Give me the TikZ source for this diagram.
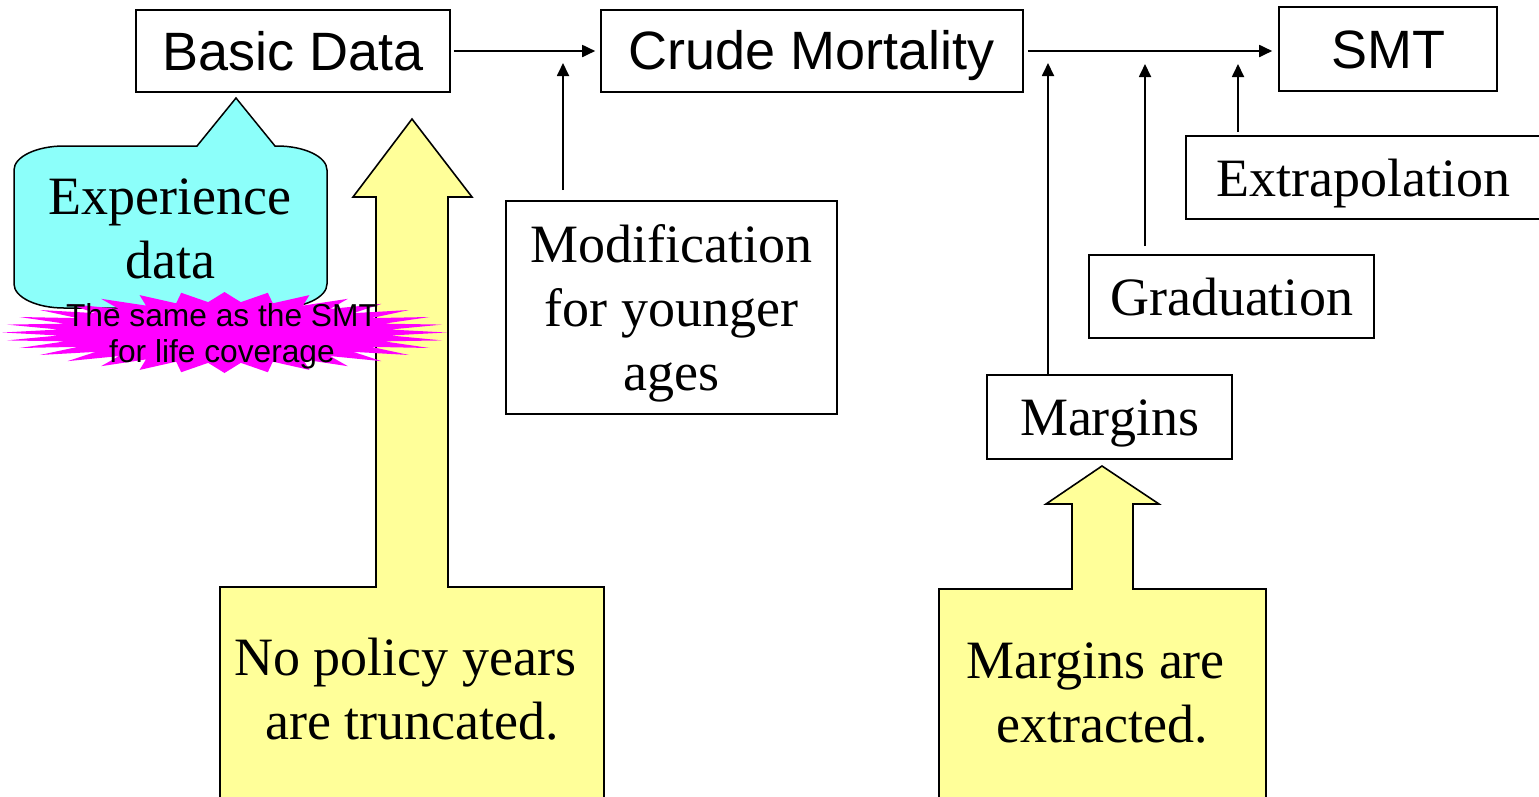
\documentclass[tikz,border=0pt]{standalone}
\usepackage{fontspec}
\setmainfont{Liberation Serif}
\setsansfont{Liberation Sans}
\usetikzlibrary{arrows.meta}
\definecolor{calloutcyan}{RGB}{140,255,250}
\definecolor{noteyellow}{RGB}{255,255,153}
\definecolor{burstmagenta}{RGB}{255,0,255}
\newcommand{\ppstrut}{\rule[-0.19em]{0pt}{1.1em}}
\begin{document}
\begin{tikzpicture}[x=1pt,y=-1pt,
  box/.style={draw=black, line width=1.6pt, fill=white, inner sep=0pt},
  serif/.style={font=\fontsize{54}{64}\selectfont, align=center},
  sansbig/.style={font=\sffamily\fontsize{54}{64}\selectfont},
  bursttxt/.style={font=\sffamily\fontsize{31.7}{36}\selectfont, align=center},
  conn/.style={line width=1.8pt, -{Triangle[length=13pt,width=12pt]}},
  yshape/.style={fill=noteyellow, draw=black, line width=1.6pt, line join=miter},
  callout/.style={fill=calloutcyan, draw=black, line width=1.5pt, line join=miter},
]
\useasboundingbox (0,0) rectangle (1539,796);
\clip (0,0) rectangle (1539,796);

% boxes
\node[box, sansbig, minimum width=314, minimum height=82] (basic) at (293,51) {\ppstrut Basic Data};
\node[box, sansbig, minimum width=422, minimum height=82] (crude) at (812,51) {\ppstrut Crude Mortality};
\node[box, sansbig, minimum width=218, minimum height=84] (smt) at (1388,49) {\ppstrut SMT};
\node[box, serif, minimum width=355, minimum height=83] (extra) at (1363.5,177.5) {\ppstrut Extrapolation};
\node[box, serif, minimum width=285, minimum height=83] (grad) at (1231.5,296.5) {\ppstrut Graduation};
\node[box, serif, minimum width=245, minimum height=84] (marg) at (1109.5,417) {\ppstrut Margins};
\node[box, serif, minimum width=331, minimum height=213] (mod) at (671.5,307.5) {\ppstrut Modification\\\ppstrut for younger\\\ppstrut ages};

% connectors
\coordinate (modtip) at (563,63);
\coordinate (margtip) at (1048,63);
\coordinate (gradtip) at (1145,64);
\coordinate (extip) at (1238,64);
\draw[conn, shorten <=3pt, shorten >=5pt] (basic.east) -- (crude.west);
\draw[conn, shorten <=4pt, shorten >=6pt] (crude.east) -- (crude.east -| smt.west);
\draw[conn, shorten <=10pt] (modtip |- mod.north) -- (modtip);
\draw[conn] (margtip |- marg.north) -- (margtip);
\draw[conn, shorten <=8pt] (gradtip |- grad.north) -- (gradtip);
\draw[conn, shorten <=3pt] (extip |- extra.north) -- (extip);

% callout
\draw[callout] (64,146) -- (197,146) -- (236,98) -- (275,146) -- (277,146)
  .. controls (304.6,146) and (327,156.8) .. (327,170) -- (327,284)
  .. controls (327,297.2) and (304.6,308) .. (277,308) -- (64,308)
  .. controls (36.4,308) and (14,297.2) .. (14,284) -- (14,170)
  .. controls (14,156.8) and (36.4,146) .. (64,146) -- cycle;

% yellow block arrows
\draw[yshape] (220,587) -- (376,587) -- (376,197) -- (353,197) -- (412,119) -- (472,197)
  -- (448,197) -- (448,587) -- (604,587) -- (604,806) -- (220,806) -- cycle;
\draw[yshape] (939,589) -- (1072,589) -- (1072,504) -- (1046,504) -- (1102,466) -- (1159,504)
  -- (1133,504) -- (1133,589) -- (1266,589) -- (1266,806) -- (939,806) -- cycle;

% starburst
\fill[burstmagenta] plot[variable=\t, samples at={0,...,63}]
  ({224.5+(222-55.5*mod(\t,2))*cos(\t*5.625)}, {332.5+(40.5-10*mod(\t,2))*sin(\t*5.625)}) -- cycle;

% texts
\node[serif] (exptext) at (170,227) {\ppstrut Experience\\\ppstrut data};
\node[bursttxt] (bursttext) at (222,333) {\ppstrut The same as the SMT\\\ppstrut for life coverage};
\node[serif] (notrunc) at (412,688) {\ppstrut No policy years\kern.25em\\\ppstrut are truncated.};
\node[serif] (marextr) at (1102.5,691) {\ppstrut Margins are\kern.25em\\\ppstrut extracted.};
\end{tikzpicture}
\end{document}
